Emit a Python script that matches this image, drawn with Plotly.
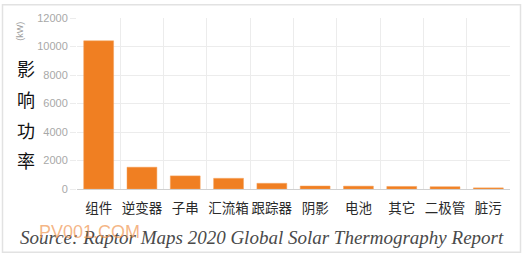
import plotly.graph_objects as go

categories = ["组件", "逆变器", "子串", "汇流箱", "跟踪器", "阴影", "电池", "其它", "二极管", "脏污"]
values = [10400, 1530, 920, 750, 400, 210, 200, 180, 160, 80]
y_ticks = [0, 2000, 4000, 6000, 8000, 10000, 12000]
y_tick_labels = ["0", "2000", "4000", "6000", "8000", "10000", "12000"]
y_title_chars = ["影", "响", "功", "率"]
unit_label = "(kW)"
source_text = "Source: Raptor Maps 2020 Global Solar Thermography Report"
watermark = "PV001.COM"

W, H = 522, 260
L, R, T, B = 77, 12, 16, 71

fig = go.Figure()
fig.add_trace(go.Bar(
    x=categories, y=values,
    marker=dict(color="#F07F22", line=dict(color="#F5A05A", width=0.5)),
))

grid = "#ececec"
fig.update_layout(
    width=W, height=H,
    margin=dict(l=L, r=R, t=T, b=B),
    paper_bgcolor="white", plot_bgcolor="white",
    bargap=0.31,
    showlegend=False,
    font=dict(family="Noto Sans CJK SC, Noto Sans, sans-serif"),
    xaxis=dict(
        type="category", tickson="boundaries", tickangle=0,
        showgrid=True, gridcolor=grid, gridwidth=1,
        ticks="", ticklabelstandoff=9,
        tickfont=dict(size=13.5, color="#2a2a2a", family="Noto Sans CJK SC"),
        showline=False, zeroline=False,
    ),
    yaxis=dict(
        range=[0, 12000], tickvals=y_ticks, ticktext=y_tick_labels,
        showgrid=True, gridcolor=grid, gridwidth=1,
        ticks="outside", ticklen=6, tickcolor=grid,
        tickfont=dict(size=11, color="#a8a8a8", family="Liberation Sans"),
        zeroline=True, zerolinecolor="#d0d0d0", zerolinewidth=1,
        showline=False,
    ),
)

pw = W - L - R
ph = H - T - B

def px_x(x):
    return (x - L) / pw

def px_y(y):
    return (H - B - y) / ph

# vertical title characters
for i, ch in enumerate(y_title_chars):
    fig.add_annotation(
        text=ch, xref="paper", yref="paper",
        x=px_x(26), y=px_y(67 + i * 31),
        showarrow=False, xanchor="center", yanchor="middle",
        font=dict(size=18, color="#111111", family="Noto Sans CJK SC"),
    )

fig.add_annotation(
    text=unit_label, xref="paper", yref="paper",
    x=px_x(20), y=px_y(30), textangle=-90,
    showarrow=False, xanchor="center", yanchor="middle",
    font=dict(size=9, color="#a0a0a0", family="Liberation Sans"),
)

fig.add_annotation(
    text="<i>" + source_text + "</i>", xref="paper", yref="paper",
    x=px_x(506), y=px_y(238),
    showarrow=False, xanchor="right", yanchor="middle",
    font=dict(size=19, color="#4a4a4a", family="Liberation Serif"),
)

fig.add_annotation(
    text=watermark, xref="paper", yref="paper",
    x=px_x(37), y=px_y(232),
    showarrow=False, xanchor="left", yanchor="middle",
    font=dict(size=18, color="rgba(240,150,80,0.7)", family="Liberation Sans"),
)

# outer frame
fig.add_shape(
    type="rect", xref="paper", yref="paper",
    x0=px_x(2.5), x1=px_x(520.5), y0=px_y(253), y1=px_y(2.5),
    line=dict(color="#e2e2e2", width=1.5), fillcolor="rgba(0,0,0,0)", layer="below",
)

fig.write_html("out.html")
